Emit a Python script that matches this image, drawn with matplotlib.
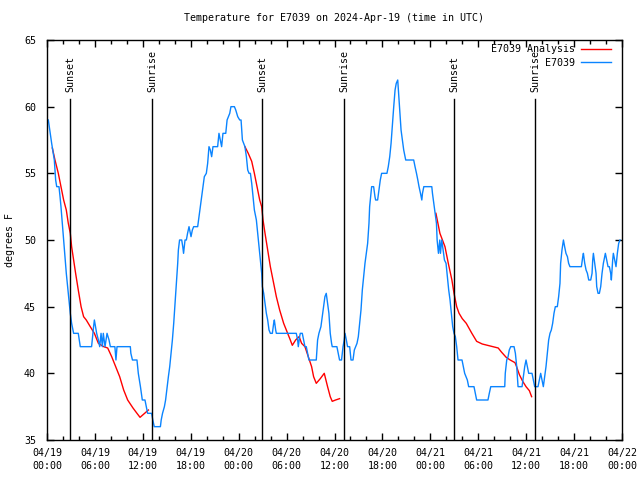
import numpy as np
import matplotlib
matplotlib.use("Agg")
import matplotlib.pyplot as plt
import matplotlib.dates as mdates
from matplotlib.lines import Line2D

START = np.datetime64("2024-04-19T00:00")

# observed temperature, hours after 04/19 00:00 UTC
obs_hours = [
    0.17, 0.58, 0.92, 1.09, 1.21, 1.5, 1.63, 1.75, 1.92, 2.09, 2.25, 2.42, 2.59, 2.75, 2.92,
    3.09, 3.34, 3.92, 4.17, 5.59, 5.84, 5.93, 6.22, 6.43, 6.6, 6.77, 6.93, 7.05, 7.26, 7.51,
    7.76, 7.93, 8.5, 8.64, 8.76, 10.43, 10.5, 10.7, 11.27, 11.44, 11.7, 11.94, 12.27, 12.6,
    13.1, 13.25, 13.44, 14.2, 14.3, 14.46, 14.7, 14.85, 15.0, 15.2, 15.36, 15.53, 15.7,
    15.86, 16.03, 16.2, 16.37, 16.45, 16.6, 16.86, 17.0, 17.1, 17.28, 17.45, 17.6, 17.78,
    18.03, 18.2, 18.36, 18.86, 19.03, 19.2, 19.37, 19.53, 19.7, 19.95, 20.12, 20.28, 20.45,
    20.62, 20.79, 21.37, 21.54, 21.7, 21.87, 22.04, 22.38, 22.55, 22.88, 23.04, 23.46,
    23.63, 23.88, 24.13, 24.3, 24.46, 24.79, 24.96, 25.13, 25.3, 25.46, 25.63, 25.8, 25.96,
    26.21, 26.38, 26.55, 26.71, 26.88, 26.96, 27.13, 27.3, 27.46, 27.63, 27.8, 27.97, 28.22,
    28.38, 28.47, 28.63, 28.72, 31.22, 31.39, 31.47, 31.64, 31.72, 31.97, 32.14, 32.3, 32.47,
    32.64, 32.8, 33.72, 33.89, 34.05, 34.3, 34.47, 34.64, 34.8, 34.97, 35.14, 35.3, 35.47,
    35.64, 35.72, 36.3, 36.47, 36.64, 36.89, 37.06, 37.22, 37.31, 37.48, 37.64, 37.9, 37.98,
    38.06, 38.31, 38.48, 38.65, 38.81, 38.98, 39.15, 39.31, 39.48, 39.65, 39.81, 39.98,
    40.15, 40.31, 40.4, 40.56, 40.65, 40.9, 41.07, 41.15, 41.4, 41.57, 41.74, 41.9, 42.57,
    42.74, 42.91, 43.08, 43.24, 43.41, 43.58, 43.74, 43.91, 44.0, 44.16, 44.33, 44.5, 44.66,
    44.83, 44.92, 45.92, 46.09, 46.26, 46.43, 46.59, 46.76, 46.93, 47.01, 47.18, 48.18,
    48.27, 48.43, 48.6, 48.77, 48.85, 49.02, 49.18, 49.27, 49.43, 49.6, 49.77, 49.97, 50.14,
    50.3, 50.47, 50.64, 50.8, 50.97, 51.14, 51.3, 51.47, 51.97, 52.14, 52.3, 52.47, 52.64,
    52.8, 53.47, 53.64, 53.8, 55.22, 55.39, 55.56, 57.31, 57.39, 57.56, 57.73, 57.89, 58.06,
    58.48, 58.65, 58.81, 58.98, 59.48, 59.65, 59.82, 59.98, 60.15, 60.32, 60.73, 60.9, 61.07,
    61.49, 61.65, 61.82, 61.98, 62.15, 62.32, 62.48, 62.65, 62.82, 62.98, 63.15, 63.32,
    63.49, 63.65, 63.9, 64.07, 64.24, 64.32, 64.49, 64.66, 64.82, 64.99, 65.16, 65.32, 65.49,
    66.91, 67.08, 67.16, 67.33, 67.5, 67.66, 67.83, 68.08, 68.25, 68.33, 68.42, 68.58, 68.75,
    68.83, 69.0, 69.17, 69.34, 69.5, 69.67, 69.84, 69.92, 70.09, 70.25, 70.42, 70.59, 70.67,
    70.84, 70.92, 71.09, 71.25, 71.42, 71.59, 71.75,
]
obs_temp = [
    59, 57.25, 56, 54.5, 54, 54, 53.25, 52.5, 51.25, 50, 48.75, 47.5, 46.5, 45.5, 44.5,
    43.75, 43, 43, 42, 42, 43.5, 44, 43, 42.5, 42, 43, 42, 43, 42, 43,
    42.5, 42, 42, 41, 42, 42, 41.5, 41, 41, 40, 39, 38, 38, 37,
    37, 36.5, 36, 36, 36.5, 37, 37.5, 38, 38.75, 39.75, 40.5, 41.5, 42.5,
    43.75, 45.25, 46.75, 48.25, 49.25, 50, 50, 49.5, 49, 50, 50, 50.5, 51,
    50.25, 50.75, 51, 51, 51.75, 52.5, 53.25, 54, 54.75, 55, 55.75, 57, 56.75,
    56.25, 57, 57, 58, 57.5, 57, 58, 58, 59, 59.5, 60, 60,
    59.75, 59.25, 59, 59, 57.5, 57, 56.25, 55.25, 55, 55, 54.25, 53.25, 52.25,
    51.5, 50.5, 49.5, 48.5, 47.5, 46.5, 46, 45.25, 44.5, 44, 43.25, 43, 43,
    43.75, 44, 43.25, 43, 43, 42.5, 42, 42.75, 43, 43, 42.5, 42, 42,
    41.5, 41, 41, 42.5, 43, 43.5, 44.25, 45, 45.75, 46, 45.25, 44.5, 43,
    42.25, 42, 42, 41.5, 41, 41, 42, 42.5, 43, 42.5, 42, 42, 41.5,
    41, 41, 41.75, 42, 42.25, 42.75, 43.75, 44.75, 46.25, 47.25, 48.25, 49,
    49.75, 51.25, 52.5, 53.5, 54, 54, 53.25, 53, 53, 53.75, 54.5, 55, 55,
    55.5, 56.25, 57.25, 58.5, 60, 61.25, 61.75, 62, 61.25, 59.75, 58.25, 57.5, 56.75,
    56.25, 56, 56, 55.5, 55, 54.5, 54, 53.5, 53, 53.5, 54, 54,
    53.5, 52.75, 52, 51.25, 50, 49, 50, 49, 50, 49.25, 48.5, 48.25, 47.25,
    46.25, 45.5, 44.5, 43.5, 43, 42.75, 42, 41, 41, 40.5, 40, 39.75, 39.5,
    39, 39, 38.5, 38, 38, 38.5, 39, 39, 40, 41, 41.25, 41.75, 42,
    42, 41.5, 40.5, 39, 39, 39.75, 40.5, 41, 40.5, 40, 40, 39.5, 39,
    39, 39.5, 40, 39.5, 39, 39.75, 40.5, 41.5, 42.5, 43, 43.25, 43.75,
    44.5, 45, 45, 45.75, 46.75, 48.25, 49.25, 50, 49.5, 49, 48.75, 48.25, 48,
    48, 48.75, 49, 48.25, 47.75, 47.5, 47, 47, 47.5, 48.5, 49, 48.25, 47.5,
    46.5, 46, 46, 46.5, 47.5, 48.25, 48.75, 49, 48.5, 48, 48, 47.5, 47,
    48.5, 49, 48.5, 48, 49, 49.75, 50,
]

# analysis, three overnight pieces
ana1_hours = [0.67, 1.0, 1.42, 1.75, 2.09, 2.42, 2.67, 2.92, 3.09, 3.34, 3.59, 3.92, 4.26,
              4.59, 4.92, 5.42, 5.93, 6.43, 7.1, 7.6, 8.1, 8.6, 9.1, 9.6, 10.1, 10.77,
              11.27, 11.65, 12.7]
ana1_temp = [56.9, 56, 55, 54, 53, 52.25, 51.25, 50.5, 49.5, 48.5, 47.5, 46.25, 45,
             44.25, 44, 43.5, 43, 42.25, 42, 41.9, 41.25, 40.5, 39.75, 38.75, 38, 37.4,
             37, 36.7, 37.25]
ana2_hours = [24.79, 25.2, 25.63, 25.96, 26.3, 26.63, 26.88, 27.05, 27.3, 27.63, 27.97,
              28.3, 28.72, 29.14, 29.64, 30.14, 30.47, 30.72, 31.14, 31.56, 31.89, 32.3,
              32.72, 33.14, 33.39, 33.72, 34.22, 34.72, 35.14, 35.47, 35.72, 36.14, 36.64]
ana2_temp = [57, 56.5, 55.9, 55, 54, 53, 52.5, 51.5, 50.5, 49.25, 48,
             47, 45.75, 44.75, 43.75, 43, 42.5, 42.1, 42.5, 42.75, 42.25, 42,
             41.25, 40.5, 39.75, 39.25, 39.6, 40, 39, 38.25, 37.9, 38, 38.1]
ana3_hours = [48.7, 49.2, 49.84, 50.25, 50.7, 50.96, 51.3, 51.6, 52.0, 52.5, 53.2, 53.8,
              54.5, 55.5, 56.5, 56.9, 57.5, 58.0, 58.6, 58.8, 59.15, 59.57, 59.98, 60.4,
              60.69]
ana3_temp = [52, 50.5, 49.5, 48.25, 47, 46, 45, 44.5, 44.1, 43.75, 43, 42.4,
             42.2, 42.05, 41.9, 41.6, 41.2, 41.0, 40.8, 40.5, 39.9, 39.4, 39.0, 38.7,
             38.25]

sun_events = ["Sunset", "Sunrise", "Sunset", "Sunrise", "Sunset", "Sunrise"]
sun_times = ["2024-04-19T02:53", "2024-04-19T13:09", "2024-04-20T02:57",
             "2024-04-20T13:11", "2024-04-21T03:00", "2024-04-21T13:06"]


def to_time(hours):
    return START + (np.array(hours) * 60).round().astype("timedelta64[m]")


FONT = "DejaVu Sans Mono"
FS = 7.2
RED = "#ff0000"
BLUE = "#0a84ff"

fig = plt.figure(figsize=(6.4, 4.8), dpi=100)
ax = fig.add_axes([47 / 640, 40 / 480, 575 / 640, 400 / 480])

for h, t in [(ana1_hours, ana1_temp), (ana2_hours, ana2_temp), (ana3_hours, ana3_temp)]:
    ax.plot(to_time(h), t, color=RED, lw=1.0)
ax.plot(to_time(obs_hours), obs_temp, color=BLUE, lw=1.0)

trans = ax.get_xaxis_transform()
for name, t in zip(sun_events, sun_times):
    x = mdates.date2num(np.datetime64(t))
    ax.plot([x, x], [0, 0.8525], transform=trans, color="black", lw=1.0)
    ax.text(x, 0.87, name, transform=trans, rotation=90, ha="center", va="bottom",
            family=FONT, fontsize=FS)

ax.set_xlim(mdates.date2num(START), mdates.date2num(START + np.timedelta64(72, "h")))
ax.set_ylim(35, 65)
ax.set_yticks([35, 40, 45, 50, 55, 60, 65])
ax.xaxis.set_major_locator(mdates.HourLocator(byhour=[0, 6, 12, 18]))
ax.xaxis.set_minor_locator(mdates.HourLocator(byhour=range(0, 24, 2)))
ax.xaxis.set_major_formatter(mdates.DateFormatter("%m/%d\n%H:%M"))
ax.tick_params(which="both", direction="in", top=True, right=True, width=1.0)
ax.tick_params(which="major", length=5)
ax.tick_params(which="minor", length=3)
ax.tick_params(axis="x", pad=6)
ax.tick_params(axis="y", pad=8)
for lab in ax.get_xticklabels() + ax.get_yticklabels():
    lab.set_family(FONT)
    lab.set_fontsize(FS)
    lab.set_linespacing(1.3)
for sp in ax.spines.values():
    sp.set_linewidth(1.0)

ax.set_ylabel("degrees F", family=FONT, fontsize=FS)
ax.yaxis.set_label_coords(-0.056, 0.5)
ax.set_title("Temperature for E7039 on 2024-Apr-19 (time in UTC)", family=FONT,
             fontsize=FS, pad=14)

handles = [Line2D([], [], color=RED, lw=1.0), Line2D([], [], color=BLUE, lw=1.0)]
ax.legend(handles, ["E7039 Analysis", "E7039"], loc="upper right",
          bbox_to_anchor=(0.985, 0.995), markerfirst=False, frameon=False,
          prop={"family": FONT, "size": FS}, handlelength=3.0, handletextpad=0.6,
          labelspacing=0.35, borderaxespad=0, borderpad=0.25)

fig.savefig("out.png", dpi=100)
